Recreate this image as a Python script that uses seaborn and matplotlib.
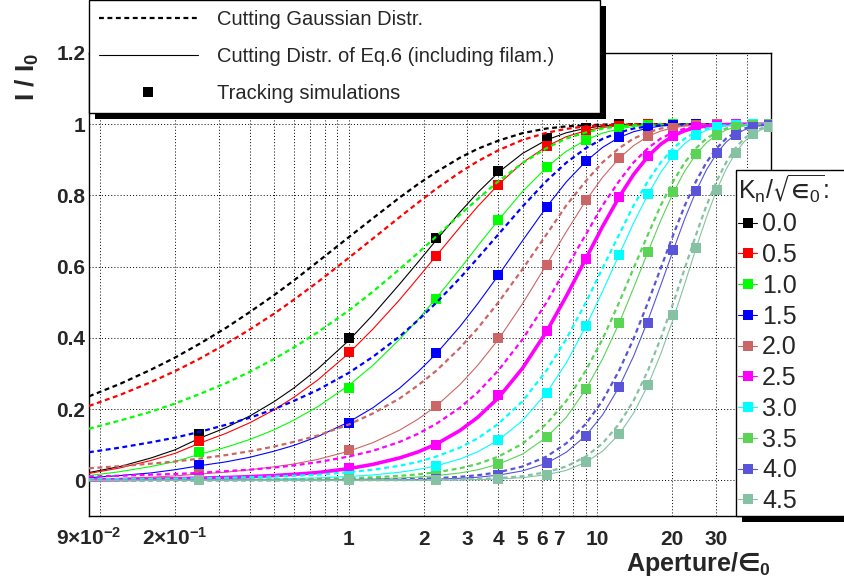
import numpy as np
import matplotlib
matplotlib.use('Agg')
import matplotlib.pyplot as plt
import matplotlib.ticker as mticker
from matplotlib.lines import Line2D
from matplotlib.patches import Rectangle
import seaborn as sns

aperture = [0.09, 0.12, 0.16, 0.2, 0.25, 0.32, 0.4, 0.5, 0.6, 0.75, 1, 1.25, 1.6, 1.9, 2.25, 2.8, 3.3, 4, 5,
            6.25, 7.5, 9, 10.5, 12.25, 14, 16, 18, 20.25, 22.5, 25, 27.5, 30.25, 33, 36, 39, 42.25, 45.5, 49]
# apertures of the tracking simulation points
track_ap = [0.25, 1, 2.25, 4, 6.25, 9, 12.25, 16, 20.25, 25, 30.25, 36, 42.25, 49]

kn_labels = ['0.0', '0.5', '1.0', '1.5', '2.0', '2.5', '3.0', '3.5', '4.0', '4.5']
colors = ['#000000', '#ff0000', '#00ff00', '#0000ff', '#cc6666',
          '#ff00ff', '#00ffff', '#59d454', '#5954d8', '#85c2a3']

# I/I0 in percent, cutting a gaussian distribution (dashed)
gauss_00 = [23.6, 27.1, 31.1, 34.5, 38.3, 42.8, 47.3, 52.0, 56.1, 61.4, 68.3, 73.6, 79.4, 83.2, 86.6, 90.6, 93.1, 95.4, 97.5,
            98.8, 99.4, 99.7, 99.9, 100, 100, 100, 100, 100, 100, 100, 100, 100, 100, 100, 100, 100, 100, 100]
gauss_05 = [20.9, 24.0, 27.6, 30.7, 34.1, 38.3, 42.4, 46.8, 50.7, 55.7, 62.5, 67.9, 73.9, 78.0, 81.9, 86.5, 89.6, 92.7, 95.6,
            97.6, 98.7, 99.4, 99.7, 99.9, 100, 100, 100, 100, 100, 100, 100, 100, 100, 100, 100, 100, 100, 100]
gauss_10 = [14.5, 16.8, 19.3, 21.6, 24.2, 27.3, 30.5, 34.1, 37.3, 41.6, 47.7, 53.0, 59.3, 63.9, 68.5, 74.6, 79.0, 84.0, 89.1,
            93.3, 96.0, 97.7, 98.8, 99.4, 99.7, 99.9, 100, 100, 100, 100, 100, 100, 100, 100, 100, 100, 100, 100]
gauss_15 = [7.9, 9.2, 10.7, 12.0, 13.6, 15.6, 17.6, 20.0, 22.3, 25.4, 30.2, 34.7, 40.4, 45.0, 49.9, 56.8, 62.4, 69.1, 76.9,
            84.1, 89.2, 93.3, 95.9, 97.7, 98.8, 99.4, 99.7, 99.9, 100, 100, 100, 100, 100, 100, 100, 100, 100, 100]
gauss_20 = [3.4, 4.0, 4.7, 5.3, 6.1, 7.1, 8.2, 9.5, 10.8, 12.6, 15.7, 18.8, 23.0, 26.7, 30.8, 37.2, 42.7, 50.0, 59.3,
            69.1, 77.2, 84.1, 89.3, 93.3, 96.0, 97.7, 98.8, 99.4, 99.7, 99.9, 100, 100, 100, 100, 100, 100, 100, 100]
gauss_25 = [1.1, 1.3, 1.6, 1.8, 2.1, 2.6, 3.0, 3.6, 4.2, 5.1, 6.7, 8.3, 10.8, 13.1, 15.9, 20.4, 24.7, 30.9, 39.6,
            50.0, 59.6, 69.1, 77.2, 84.1, 89.3, 93.3, 96.0, 97.7, 98.8, 99.4, 99.7, 99.9, 100, 100, 100, 100, 100, 100]
gauss_30 = [0.3, 0.4, 0.4, 0.5, 0.6, 0.7, 0.9, 1.1, 1.3, 1.6, 2.3, 3.0, 4.1, 5.2, 6.7, 9.2, 11.8, 15.9, 22.2,
            30.9, 39.7, 50.0, 59.6, 69.1, 77.2, 84.1, 89.3, 93.3, 96.0, 97.7, 98.8, 99.4, 99.7, 99.9, 100, 100, 100, 100]
gauss_35 = [0.07, 0.08, 0.1, 0.11, 0.14, 0.17, 0.21, 0.26, 0.32, 0.42, 0.62, 0.86, 1.27, 1.69, 2.28, 3.39, 4.62, 6.68, 10.3,
            15.9, 22.3, 30.9, 39.7, 50.0, 59.6, 69.1, 77.2, 84.1, 89.3, 93.3, 96.0, 97.7, 98.8, 99.4, 99.7, 99.9, 100, 100]
gauss_40 = [0.01, 0.01, 0.02, 0.02, 0.02, 0.03, 0.04, 0.05, 0.06, 0.09, 0.13, 0.2, 0.31, 0.44, 0.62, 1.0, 1.45, 2.28, 3.89,
            6.7, 10.4, 15.9, 22.4, 30.9, 39.8, 50.0, 59.6, 69.1, 77.2, 84.1, 89.3, 93.3, 96.0, 97.7, 98.8, 99.4, 99.7, 99.9]
gauss_45 = [0, 0, 0, 0, 0, 0, 0, 0, 0.01, 0.01, 0.02, 0.04, 0.06, 0.09, 0.13, 0.24, 0.37, 0.62, 1.18,
            2.3, 3.9, 6.7, 10.4, 15.9, 22.4, 30.9, 39.9, 50.0, 59.6, 69.1, 77.2, 84.1, 89.3, 93.3, 96.0, 97.7, 98.8, 99.4]

# I/I0 in percent, cutting the distribution of Eq.6 with filamentation (solid)
eq6_00 = [2.2, 3.9, 6.3, 8.6, 11.8, 14.8, 18.1, 22.1, 25.9, 31.3, 39.3, 46.5, 55.1, 61.3, 67.5, 75.3, 80.8, 86.5, 91.8,
          95.6, 97.6, 98.9, 99.5, 99.8, 99.9, 100, 100, 100, 100, 100, 100, 100, 100, 100, 100, 100, 100, 100]
eq6_05 = [1.95, 3.5, 5.6, 7.6, 10.4, 13.2, 16.2, 19.8, 23.3, 28.2, 35.7, 42.5, 50.7, 56.9, 63.1, 71.1, 76.9, 83.1, 89.2,
          93.8, 96.5, 98.2, 99.1, 99.6, 99.8, 99.9, 100, 100, 100, 100, 100, 100, 100, 100, 100, 100, 100, 100]
eq6_10 = [1.35, 2.45, 3.9, 5.3, 7.3, 9.3, 11.5, 14.2, 16.9, 20.7, 26.7, 32.3, 39.6, 45.2, 51.2, 59.4, 65.8, 73.1, 81.1,
          87.9, 92.4, 95.6, 97.5, 98.7, 99.4, 99.7, 99.9, 99.9, 100, 100, 100, 100, 100, 100, 100, 100, 100, 100]
eq6_15 = [0.75, 1.36, 2.1, 3.0, 4.1, 5.2, 6.5, 8.2, 9.8, 12.3, 16.4, 20.4, 25.9, 30.5, 35.6, 43.2, 49.6, 57.6, 67.3,
          76.8, 83.8, 89.6, 93.5, 96.3, 97.9, 98.9, 99.5, 99.8, 99.9, 100, 100, 100, 100, 100, 100, 100, 100, 100]
eq6_20 = [0.3, 0.55, 0.9, 1.26, 1.8, 2.3, 3.0, 3.8, 4.6, 5.9, 8.2, 10.6, 14.1, 17.2, 20.9, 26.9, 32.3, 39.6, 49.6,
          60.6, 69.8, 78.6, 85.1, 90.5, 94.0, 96.6, 98.1, 99.0, 99.5, 99.8, 99.9, 100, 100, 100, 100, 100, 100, 100]
eq6_25 = [0.1, 0.2, 0.33, 0.45, 0.62, 0.8, 1.05, 1.36, 1.7, 2.2, 3.3, 4.5, 6.3, 8.0, 10.2, 14.0, 17.7, 23.2, 31.5,
          41.8, 51.7, 62.3, 71.3, 79.6, 85.9, 91.0, 94.4, 96.8, 98.2, 99.1, 99.5, 99.8, 99.9, 100, 100, 100, 100, 100]
eq6_30 = [0.03, 0.05, 0.07, 0.1, 0.17, 0.22, 0.28, 0.4, 0.52, 0.71, 1.08, 1.52, 2.29, 3.05, 4.08, 5.99, 8.03, 11.3, 16.8,
          24.6, 33.0, 43.3, 53.1, 63.4, 72.3, 80.3, 86.5, 91.4, 94.6, 96.9, 98.3, 99.1, 99.6, 99.8, 99.9, 100, 100, 100]
eq6_35 = [0.01, 0.01, 0.02, 0.02, 0.03, 0.04, 0.06, 0.08, 0.1, 0.15, 0.28, 0.42, 0.67, 0.94, 1.32, 2.09, 2.98, 4.54, 7.4,
          12.1, 17.7, 25.6, 34.1, 44.2, 54.1, 64.2, 73.0, 80.9, 86.9, 91.6, 94.8, 97.0, 98.4, 99.2, 99.6, 99.8, 99.9, 100]
eq6_40 = [0, 0, 0, 0, 0, 0, 0.01, 0.01, 0.01, 0.02, 0.04, 0.07, 0.13, 0.2, 0.34, 0.59, 0.89, 1.47, 2.66,
          4.8, 7.9, 12.6, 18.4, 26.3, 34.9, 45.0, 54.8, 64.8, 73.5, 81.3, 87.2, 91.8, 95.0, 97.1, 98.4, 99.2, 99.6, 99.8]
eq6_45 = [0, 0, 0, 0, 0, 0, 0, 0, 0, 0, 0, 0, 0.01, 0.03, 0.07, 0.13, 0.22, 0.38, 0.77,
          1.6, 2.8, 5.1, 8.2, 13.0, 18.9, 26.8, 35.5, 45.5, 55.3, 65.3, 73.9, 81.6, 87.4, 92.0, 95.1, 97.2, 98.4, 99.2]

# tracking simulations, percent
track_00 = [13, 40, 68, 87, 96, 99, 100, 100, 100, 100, 100, 100, 100, 100]
track_05 = [11, 36, 63, 83, 94, 98.2, 99.6, 100, 100, 100, 100, 100, 100, 100]
track_10 = [8, 26, 51, 73, 88, 95.6, 98.7, 99.7, 100, 100, 100, 100, 100, 100]
track_15 = [4.3, 16.2, 35.8, 57.6, 76.8, 89.6, 96.3, 98.9, 99.8, 100, 100, 100, 100, 100]
track_20 = [1.8, 8.6, 21, 40, 60.6, 78.6, 90.5, 96.6, 99.0, 99.8, 100, 100, 100, 100]
track_25 = [0.7, 3.5, 9.8, 24, 42, 62.3, 79.6, 91.0, 96.8, 99.1, 99.8, 100, 100, 100]
track_30 = [0.2, 1.1, 4.1, 11.3, 24.6, 43.3, 63.4, 80.3, 91.4, 96.9, 99.1, 99.8, 100, 100]
track_35 = [0, 0.3, 1.3, 4.5, 12.1, 25.6, 44.2, 64.2, 80.9, 91.6, 97.0, 99.2, 99.8, 100]
track_40 = [0, 0, 0.3, 1.5, 4.8, 12.6, 26.3, 44.2, 64.8, 81.3, 91.8, 97.1, 99.2, 99.8]
track_45 = [0, 0, 0.1, 0.4, 1.6, 5.1, 13.0, 26.8, 46.5, 65.3, 81.6, 92.0, 97.2, 99.2]

gauss = [gauss_00, gauss_05, gauss_10, gauss_15, gauss_20, gauss_25, gauss_30, gauss_35, gauss_40, gauss_45]
eq6 = [eq6_00, eq6_05, eq6_10, eq6_15, eq6_20, eq6_25, eq6_30, eq6_35, eq6_40, eq6_45]
track = [track_00, track_05, track_10, track_15, track_20, track_25, track_30, track_35, track_40, track_45]

sns.set_style('white')
plt.rcParams['font.family'] = ['Liberation Sans', 'DejaVu Sans']
plt.rcParams['font.weight'] = 'bold'
plt.rcParams['mathtext.default'] = 'regular'

W, H = 845, 583
fig = plt.figure(figsize=(W / 100, H / 100), dpi=100)
ax = fig.add_axes([89 / W, 67 / H, 682 / W, 463 / H])

dash = (0, (2.2, 1.6))
for i in range(len(kn_labels)):
    solid_lw = 2.6 if kn_labels[i] == '2.5' else 0.8
    sns.lineplot(x=aperture, y=np.array(gauss[i]) / 100, ax=ax, color=colors[i],
                 linewidth=1.6, linestyle=dash, zorder=3 + i)
    sns.lineplot(x=aperture, y=np.array(eq6[i]) / 100, ax=ax, color=colors[i],
                 linewidth=solid_lw, zorder=3 + i)
    sns.scatterplot(x=track_ap, y=np.array(track[i]) / 100, ax=ax, color=colors[i],
                    marker='s', s=44, linewidth=0, zorder=3 + i)

ax.set_xscale('log')
ax.set_xlim(0.09, 50)
ax.set_ylim(-0.1, 1.2)

# ROOT-like log axis labels
ax.xaxis.set_major_locator(mticker.FixedLocator([0.1, 1, 10]))
ax.xaxis.set_major_formatter(mticker.FixedFormatter(['', '1', '10']))
minor_x = [0.09, 0.2, 0.3, 0.4, 0.5, 0.6, 0.7, 0.8, 0.9, 2, 3, 4, 5, 6, 7, 8, 9, 20, 30, 40]
minor_lbl = ['9×10$^{-2}$', '2×10$^{-1}$', '', '', '', '', '', '', '',
             '2', '3', '4', '5', '6', '7', '', '', '20', '30', '']
ax.xaxis.set_minor_locator(mticker.FixedLocator(minor_x))
ax.xaxis.set_minor_formatter(mticker.FixedFormatter(minor_lbl))

ax.yaxis.set_major_locator(mticker.FixedLocator([0, 0.2, 0.4, 0.6, 0.8, 1.0, 1.2]))
ax.yaxis.set_major_formatter(mticker.FuncFormatter(lambda v, p: f'{v:g}'))
ax.yaxis.set_minor_locator(mticker.MultipleLocator(0.05))

ax.tick_params(axis='x', which='major', direction='in', length=11, width=0.8, pad=21, labelsize=15)
ax.tick_params(axis='x', which='minor', direction='in', length=3.6, width=0.8, pad=21, labelsize=15)
ax.tick_params(axis='y', which='major', direction='in', length=14.5, width=0.8, pad=2.5, labelsize=15)
ax.tick_params(axis='y', which='minor', direction='in', length=7.5, width=0.8)
for lbl in ax.get_xticklabels(which='both'):
    lbl.set_verticalalignment('baseline')

grid_kw = dict(color='black', linestyle=(0, (1, 2.2)), linewidth=0.7)
ax.grid(True, which='both', axis='x', **grid_kw)
ax.grid(True, which='major', axis='y', **grid_kw)
ax.set_axisbelow(True)
for sp in ax.spines.values():
    sp.set_color('black')
    sp.set_linewidth(1)
ax.set_xlabel('')
ax.set_ylabel('')

fig.text(27.5 / W, 1 - 53 / H, 'I / I$_0$', rotation=90, ha='center', va='top', fontsize=19)
fig.text(771 / W, 1 - 571 / H, 'Aperture/$\\mathsf{∈}_0$', ha='right', va='baseline', fontsize=18)

# legend with the line styles
style_handles = [Line2D([], [], color='black', linewidth=1.6, linestyle=dash),
                 Line2D([], [], color='black', linewidth=0.8),
                 Line2D([], [], color='black', marker='s', markersize=6.6, linestyle='none', markeredgewidth=0)]
style_labels = ['Cutting Gaussian Distr.', 'Cutting Distr. of Eq.6 (including filam.)', 'Tracking simulations']
leg1 = fig.legend(style_handles, style_labels, loc='upper left',
                  bbox_to_anchor=(89 / W, 1.0, 511 / W, 0), mode='expand', borderaxespad=0,
                  borderpad=0.5, labelspacing=0.9, handlelength=4.9, handletextpad=0.95,
                  prop={'size': 14.5, 'weight': 'normal'}, fancybox=False, edgecolor='black',
                  facecolor='white', framealpha=1)
leg1.get_frame().set_linewidth(1)

# legend with the colours
kn_handles = [Line2D([], [], color=c, linewidth=0.8, marker='s', markersize=6.6, markeredgewidth=0)
              for c in colors]
leg2 = fig.legend(kn_handles, kn_labels, loc='upper left',
                  bbox_to_anchor=(736 / W, 1 - 170 / H, 140 / W, 0), mode='expand', borderaxespad=0,
                  borderpad=0.1, labelspacing=0.27, handlelength=0.75, handletextpad=0.2,
                  prop={'size': 18, 'weight': 'normal'}, title='K$_n$/$\\sqrt{∈_0}$:',
                  title_fontproperties={'size': 18, 'weight': 'normal'}, alignment='left',
                  fancybox=False, edgecolor='black', facecolor='white', framealpha=1)
leg2.get_frame().set_linewidth(1)

# ROOT style black shadows behind both legend boxes
fig.canvas.draw()
for leg in (leg1, leg2):
    bb = leg.get_frame().get_window_extent().transformed(fig.transFigure.inverted())
    fig.add_artist(Rectangle((bb.x0 + 6 / W, bb.y0 - 6 / H), bb.width, bb.height,
                             transform=fig.transFigure, facecolor='black', edgecolor='none', zorder=4))

fig.savefig('out.png', dpi=100)
